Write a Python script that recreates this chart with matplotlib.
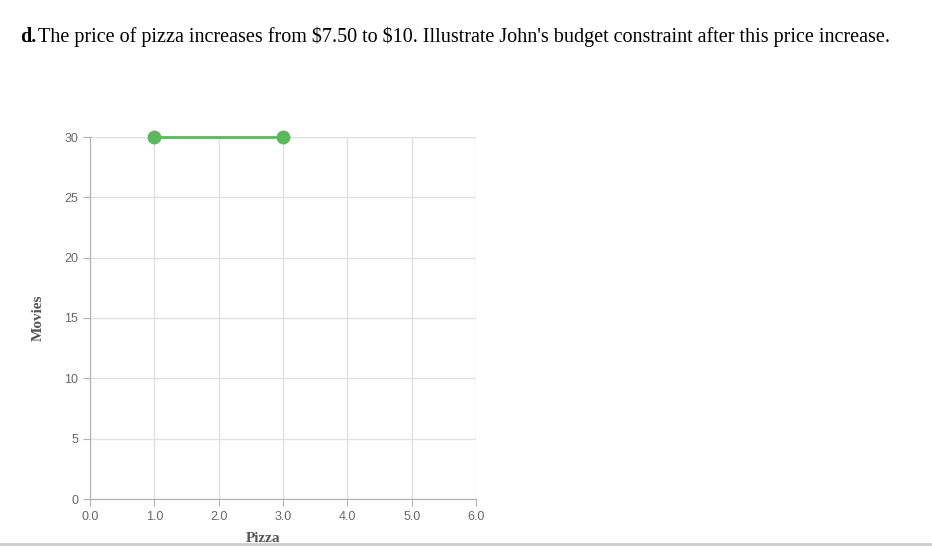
import matplotlib.pyplot as plt

pizza = [1.0, 3.0]
movies = [30, 30]
x_ticks = [0, 1, 2, 3, 4, 5, 6]
y_ticks = [0, 5, 10, 15, 20, 25, 30]

fig = plt.figure(figsize=(9.32, 5.48), dpi=100)
W, H = 932, 548

fig.text(20 / W, 1 - 37 / H, "d.", fontfamily="Liberation Serif",
         fontweight="bold", fontsize=14.5, va="center")
fig.text(38 / W, 1 - 37 / H,
         "The price of pizza increases from \\$7.50 to \\$10. Illustrate John's "
         "budget constraint after this price increase.",
         fontfamily="Liberation Serif", fontsize=14.5, va="center")

ax = fig.add_axes([90 / W, 1 - 499 / H, 386 / W, 362 / H])
ax.plot(pizza, movies, color="#5cb85c", lw=2, marker="o", ms=9,
        clip_on=False, zorder=3)
ax.set_xlim(0, 6)
ax.set_ylim(0, 30)
ax.set_xticks(x_ticks)
ax.set_xticklabels([f"{v:.1f}" for v in x_ticks])
ax.set_yticks(y_ticks)
ax.grid(color="#e0e0e0", lw=1)
for s in ["top", "right"]:
    ax.spines[s].set_visible(False)
for s in ["left", "bottom"]:
    ax.spines[s].set_color("#b0b0b0")
ax.tick_params(colors="#b0b0b0", labelcolor="#666666", labelsize=9, length=5)
for lab in ax.get_xticklabels() + ax.get_yticklabels():
    lab.set_fontfamily("Liberation Sans")
ax.set_xlabel("Pizza", fontfamily="Liberation Serif", fontweight="bold",
              fontsize=11, color="#555555")
ax.xaxis.set_label_coords((263 - 90) / 386, -33 / 362)
ax.set_ylabel("Movies", fontfamily="Liberation Serif", fontweight="bold",
              fontsize=11, color="#555555")
ax.yaxis.set_label_coords(-45 / 386, 0.5)

fig.add_artist(plt.Line2D([0, 1], [1 - 544 / H] * 2, color="#cccccc", lw=2))
fig.savefig("out.png", dpi=100)
